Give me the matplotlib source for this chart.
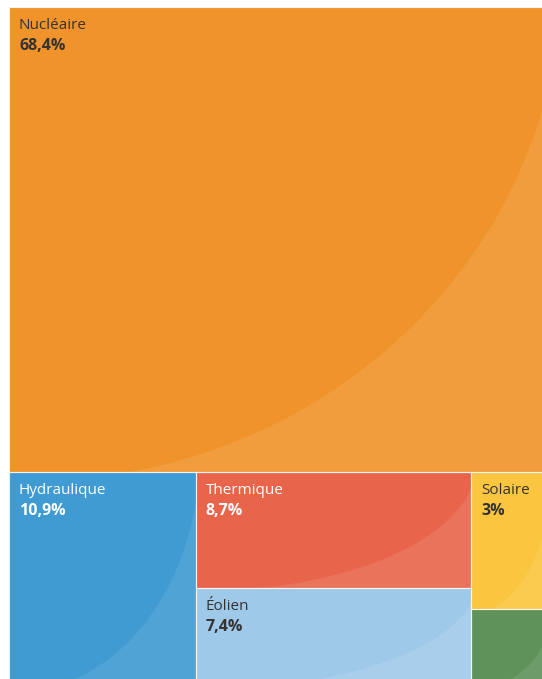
import matplotlib.pyplot as plt
from matplotlib.patches import Rectangle, Ellipse
from matplotlib.colors import to_rgb

labels = ["Nucléaire", "Hydraulique", "Thermique", "Éolien", "Solaire", "Bioénergies"]
values = [68.4, 10.9, 8.7, 7.4, 3, 1.7]
colors = ["#f0932b", "#3f9bd1", "#e8654b", "#9fc9e9", "#fbc63f", "#5f925a"]
text_colors = ["#333333", "#ffffff", "#ffffff", "#333333", "#333333", "#ffffff"]
# first group spans the top, the other groups are columns below it
groups = [[0], [1], [2, 3], [4, 5]]

plt.rcParams["font.family"] = ["Open Sans", "DejaVu Sans"]


def layout(values, groups):
    total = sum(values)
    rects = {}
    top = groups[0]
    top_sum = sum(values[i] for i in top)
    h_top = top_sum / total
    x = 0
    for i in top:
        w = values[i] / top_sum
        rects[i] = (x, 0, w, h_top)
        x += w
    rest = total - top_sum
    x = 0
    for g in groups[1:]:
        g_sum = sum(values[i] for i in g)
        w = g_sum / rest
        y = h_top
        for i in g:
            h = (1 - h_top) * values[i] / g_sum
            rects[i] = (x, y, w, h)
            y += h
        x += w
    return rects


def lighten(c, amount=0.1):
    r, g, b = to_rgb(c)
    return (r + (1 - r) * amount, g + (1 - g) * amount, b + (1 - b) * amount)


fig = plt.figure(figsize=(5.42, 6.79), dpi=100)
# the treemap is a bit larger than the picture: it is cut at right and bottom
ax = fig.add_axes([9 / 542, (679 - 687) / 679, 543 / 542, 680 / 679])
ax.set_xlim(0, 1)
ax.set_ylim(1, 0)
ax.axis("off")

rects = layout(values, groups)
for i, (x, y, w, h) in rects.items():
    tile = Rectangle((x, y), w, h, facecolor=lighten(colors[i], 0.09),
                     edgecolor="none", zorder=1)
    ax.add_patch(tile)
    shine = Ellipse((x + 0.04 * w, y - 0.08 * h), 2 * 0.98 * w, 2 * 1.1 * h,
                    facecolor=colors[i], edgecolor="none", zorder=2)
    ax.add_patch(shine)
    shine.set_clip_path(tile)
    edge = Rectangle((x, y), w, h, facecolor="none",
                     edgecolor="#f3f3f3", linewidth=0.8, zorder=3)
    ax.add_patch(edge)

    if values[i] < 2:
        continue
    pct = f"{values[i]:g}".replace(".", ",") + "%"
    ax.annotate(labels[i], xy=(x, y), xytext=(10, -22), textcoords="offset pixels",
                ha="left", va="baseline", fontsize=11, color=text_colors[i], zorder=4)
    ax.annotate(pct, xy=(x, y), xytext=(10, -43), textcoords="offset pixels",
                ha="left", va="baseline", fontsize=11.5, fontweight="bold",
                color=text_colors[i], zorder=4)

fig.savefig("out.png", dpi=100)
